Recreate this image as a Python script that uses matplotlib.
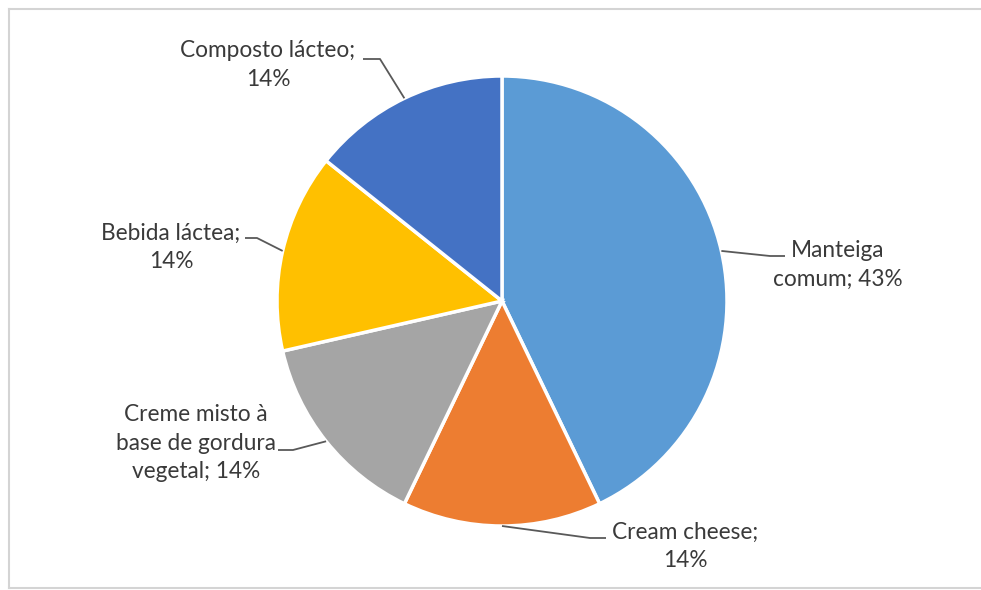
import numpy as np
import matplotlib.pyplot as plt
from matplotlib.lines import Line2D

# data
labels = ["Manteiga\ncomum; 43%", "Cream cheese;\n14%",
          "Creme misto à\nbase de gordura\nvegetal; 14%",
          "Bebida láctea;\n14%", "Composto lácteo;\n14%"]
counts = [3, 1, 1, 1, 1]
colors = ["#5B9BD5", "#ED7D31", "#A5A5A5", "#FFC000", "#4472C4"]

# layout (pixels)
W, H = 981, 590
cx, cy, R = 502, 301, 225
text_px = [(838, 265), (685, 546), (196, 443), (171, 247), (268, 65)]
elbow_px = [[(770, 256), (785, 256)],
            [(590, 538), (606, 538)],
            [(293, 450), (278, 450)],
            [(257, 238), (245, 238)],
            [(380, 59), (363, 59)]]


def to_data(p):
    return ((p[0] - cx) / R, (cy - p[1]) / R)


plt.rcParams['font.family'] = ['Lato', 'DejaVu Sans']
fig = plt.figure(figsize=(W / 100, H / 100), dpi=100)
ax = fig.add_axes([0, 0, 1, 1])

wedges, _ = ax.pie(counts, colors=colors, startangle=90, counterclock=False,
                   radius=1.0, center=(0, 0), frame=True,
                   wedgeprops=dict(edgecolor='white', linewidth=2.5))
ax.set_xlim(-cx / R, (W - cx) / R)
ax.set_ylim((cy - H) / R, cy / R)
ax.set_aspect('auto')
ax.axis('off')

for w, lab, tp, elb in zip(wedges, labels, text_px, elbow_px):
    mid = np.deg2rad((w.theta1 + w.theta2) / 2)
    pts = [(np.cos(mid), np.sin(mid))] + [to_data(p) for p in elb]
    xs, ys = zip(*pts)
    ax.plot(xs, ys, color='#595959', lw=1.3, solid_capstyle='butt')
    tx, ty = to_data(tp)
    ax.text(tx, ty, lab, ha='center', va='center', fontsize=16.3,
            color='#3a3a3a', linespacing=1.42)

# light frame: left, top, bottom (open to the right)
x0, y_top, y_bot = 9 / W, 1 - 9 / H, 2 / H
for xs, ys in [([x0, x0], [y_bot, y_top]), ([x0, 1.0], [y_top, y_top]),
               ([x0, 1.0], [y_bot, y_bot])]:
    fig.add_artist(Line2D(xs, ys, transform=fig.transFigure,
                          color='#d4d4d4', lw=1.5))

fig.savefig('out.png', dpi=100)
